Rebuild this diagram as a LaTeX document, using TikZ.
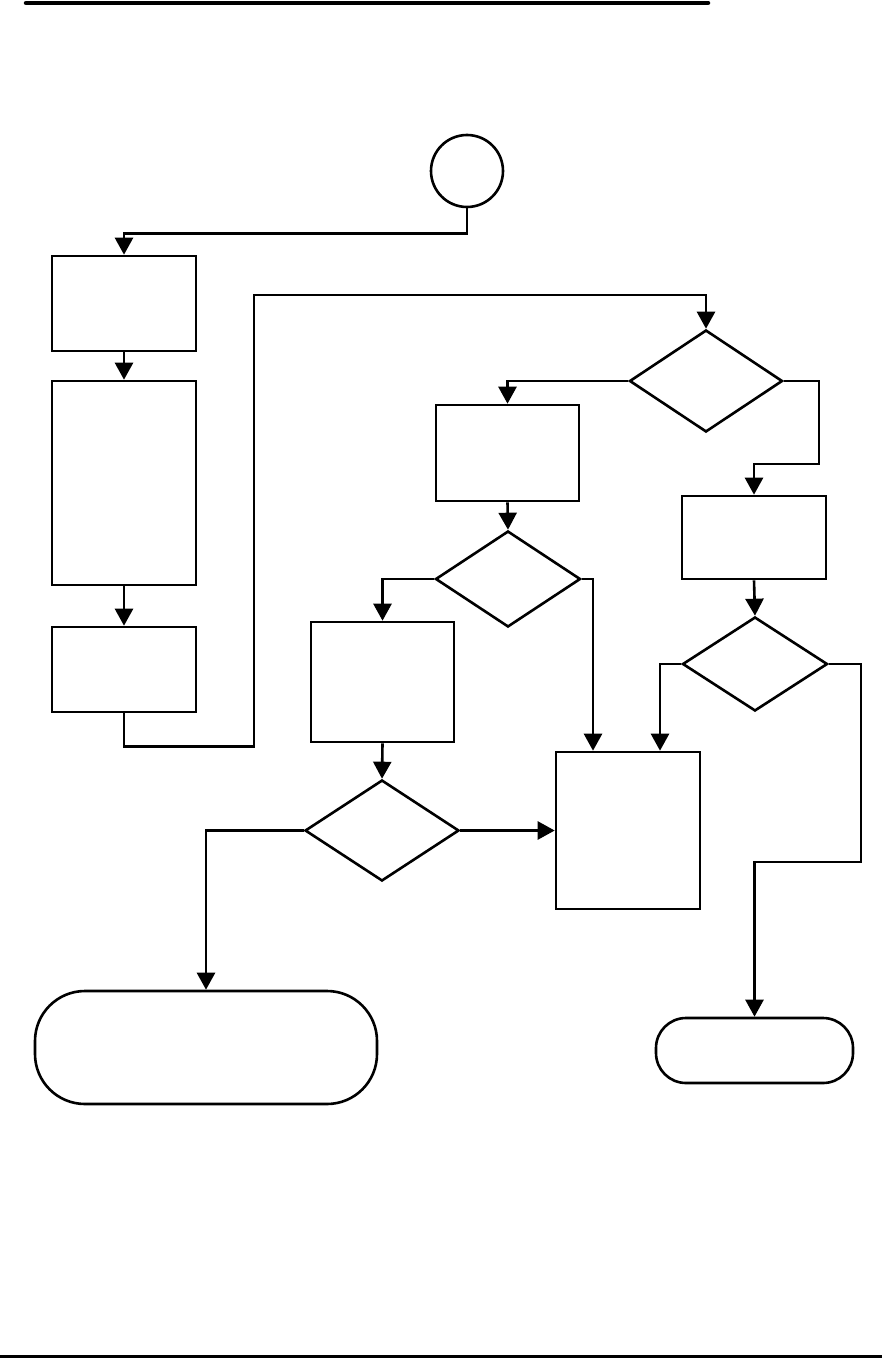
\documentclass[tikz,border=0pt]{standalone}
\usetikzlibrary{arrows.meta,shapes.geometric}
\begin{document}
\begin{tikzpicture}[x=1pt,y=-1pt,line width=2.6pt,
  box/.style={draw,rectangle,inner sep=0pt},
  dia/.style={draw,diamond,inner sep=0pt},
  term/.style={draw,rectangle,inner sep=0pt},
  arr/.style={-{Triangle[length=17pt,width=18pt]}}]
\useasboundingbox (0,0) rectangle (882,1359);
\coordinate (r1a) at (26,3);
\coordinate (r1b) at (708,3);
\coordinate (r2a) at (0,1356);
\coordinate (r2b) at (882,1356);
\draw[line width=4.5pt,line cap=round] (r1a) -- (r1b);
\draw[line width=3pt] (r2a) -- (r2b);

\node[draw,circle,minimum size=72pt,inner sep=0pt] (start) at (467,171) {};
\node[box,minimum width=144pt,minimum height=95pt] (b1) at (124,303.5) {};
\node[box,minimum width=144pt,minimum height=204pt] (b2) at (124,483) {};
\node[box,minimum width=144pt,minimum height=85pt] (b3) at (124,669.5) {};
\node[box,minimum width=143pt,minimum height=96pt] (b4) at (507.5,453) {};
\node[box,minimum width=144pt,minimum height=83pt] (b5) at (754,537.5) {};
\node[box,minimum width=143pt,minimum height=120pt] (b6) at (382.5,682) {};
\node[box,minimum width=144pt,minimum height=157pt] (b7) at (628,830.5) {};
\node[dia,minimum width=153pt,minimum height=102pt] (d1) at (706,381) {};
\node[dia,minimum width=145pt,minimum height=96pt] (d2) at (508,579) {};
\node[dia,minimum width=145pt,minimum height=94pt] (d3) at (755,664) {};
\node[dia,minimum width=154pt,minimum height=101pt] (d4) at (382,830.5) {};
\node[term,rounded corners=50pt,minimum width=342pt,minimum height=113pt] (t1) at (206,1047.5) {};
\node[term,rounded corners=30pt,minimum width=197pt,minimum height=65pt] (t2) at (754.5,1050.5) {};

\draw[arr] (start.south) -- ++(0,25) -| (b1.north);
\draw[arr] (b1.south) -- (b2.north);
\draw[arr] (b2.south) -- (b3.north);
\draw[arr] (b3.south) -- ++(0,33) -| (254,295) -| (d1.north);
\draw[arr] (d1.west) -| (b4.north);
\draw[arr] (d1.east) -| (819,464) -| (b5.north);
\draw[arr] (b4.south) -- (d2.north);
\draw[arr] (d2.west) -| (b6.north);
\draw[arr] (d2.east) -| ([xshift=-35pt]b7.north);
\draw[arr] (b5.south) -- (d3.north);
\draw[arr] (d3.west) -| ([xshift=32pt]b7.north);
\draw[arr] (d3.east) -| (861,862) -| (t2.north);
\draw[arr] (b6.south) -- (d4.north);
\draw[arr] (d4.east) -- (b7.west);
\draw[arr] (d4.west) -| (t1.north);
\end{tikzpicture}
\end{document}
